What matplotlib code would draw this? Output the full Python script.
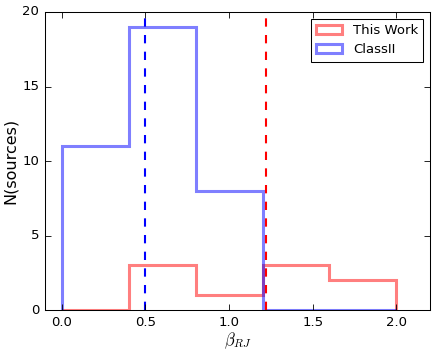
import numpy as np
import matplotlib
matplotlib.use('Agg')
import matplotlib.pyplot as plt

plt.style.use('classic')

# bin edges and counts
bin_edges = [0.0, 0.4, 0.8, 1.2, 1.6, 2.0]
this_work_counts = [0, 3, 1, 3, 2]
classii_counts = [11, 19, 8, 0, 0]
this_work_median = 1.22
classii_median = 0.5

centers = (np.array(bin_edges[:-1]) + np.array(bin_edges[1:])) / 2

fig = plt.figure(figsize=(4.36, 3.52), dpi=100)
ax = fig.add_axes([0.103, 0.119, 0.883, 0.847])

ax.hist(centers, bins=bin_edges, weights=this_work_counts, histtype='step',
        color='r', alpha=0.5, lw=2.2, label='This Work')
ax.hist(centers, bins=bin_edges, weights=classii_counts, histtype='step',
        color='b', alpha=0.5, lw=2.2, label='ClassII')
ax.axvline(this_work_median, color='r', ls='--', lw=1.5)
ax.axvline(classii_median, color='b', ls='--', lw=1.5)

ax.set_xlim(-0.1, 2.2)
ax.set_ylim(0, 20)
ax.set_xticks([0.0, 0.5, 1.0, 1.5, 2.0])
ax.set_yticks([0, 5, 10, 15, 20])
ax.tick_params(labelsize=9.5, width=0.6)
for s in ax.spines.values():
    s.set_linewidth(0.75)
ax.set_xlabel(r'$\beta_{RJ}$', fontsize=12, labelpad=1)
ax.set_ylabel('N(sources)', fontsize=11.5, labelpad=3)
leg = ax.legend(loc='upper right', fontsize=9.5, handlelength=2.0)
leg.get_frame().set_linewidth(0.75)

fig.savefig('out.png', dpi=100)
